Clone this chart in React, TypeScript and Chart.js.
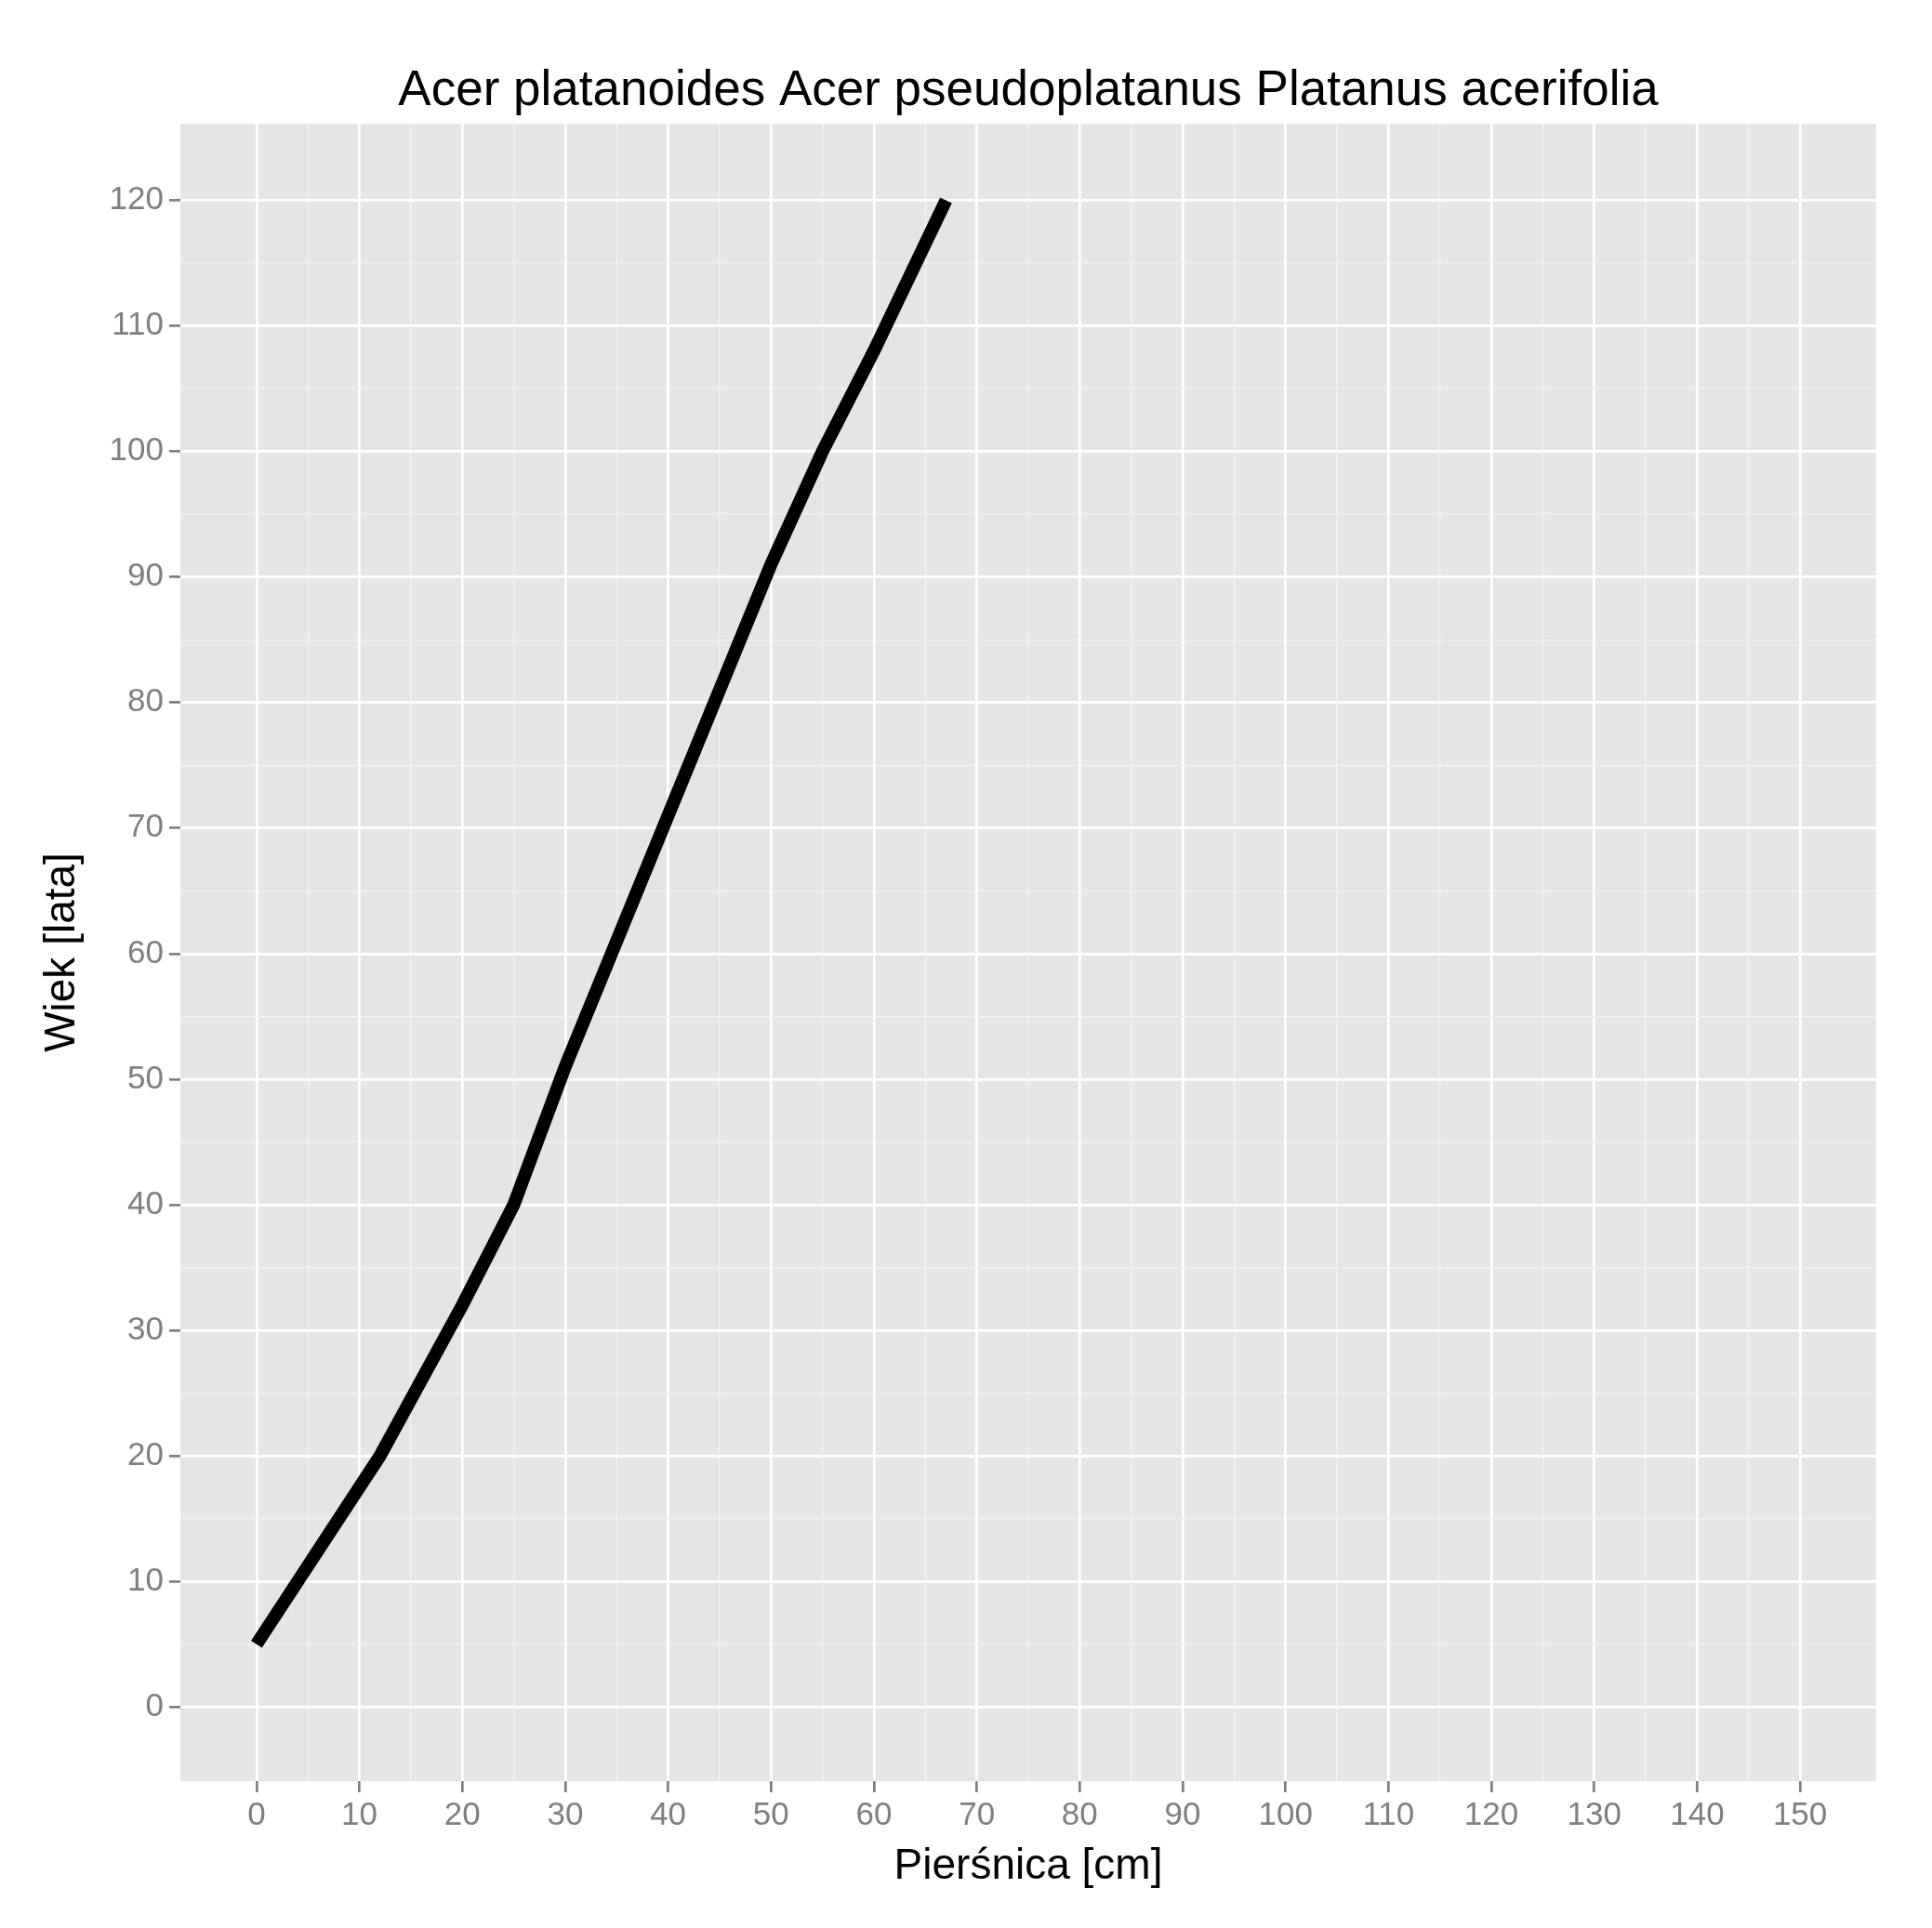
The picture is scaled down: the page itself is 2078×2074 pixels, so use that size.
import { useEffect, useRef } from "react"
import { Chart, registerables } from "chart.js"

Chart.register(...registerables)

const diameters = [0, 12, 20, 25, 30, 40, 50, 55, 60, 67]
const ages = [5, 20, 32, 40, 51, 71, 91, 100, 108, 120]
const titleText = "Acer platanoides Acer pseudoplatanus Platanus acerifolia"

const FONT = "'Liberation Sans', Arial, sans-serif"

const panelPlugin = {
  id: "panel",
  beforeDraw(chart: any) {
    const { ctx, chartArea: a } = chart
    ctx.save()
    ctx.fillStyle = "#e5e5e5"
    ctx.fillRect(a.left, a.top, a.right - a.left, a.bottom - a.top)
    ctx.restore()
  },
  afterDraw(chart: any) {
    const { ctx, chartArea: a } = chart
    ctx.save()
    ctx.fillStyle = "#000"
    ctx.font = `53px ${FONT}`
    ctx.textAlign = "center"
    ctx.textBaseline = "middle"
    ctx.fillText(titleText, (a.left + a.right) / 2, 98)
    ctx.restore()
  },
}

const gridColor = (ctx: any) => {
  const v = ctx.tick?.value
  if (v === undefined) return "transparent"
  if (Math.abs(v % 10) < 1e-6) return "#ffffff"
  if (Math.abs(v % 5) < 1e-6) return "#f2f2f2"
  return "transparent"
}
const tickColor = (ctx: any) => {
  const v = ctx.tick?.value
  return v !== undefined && Math.abs(v % 10) < 1e-6 ? "#7f7f7f" : "transparent"
}
const gridWidth = (c: any) => (Math.abs((c.tick?.value ?? 1) % 10) < 1e-6 ? 2.7 : 1.3)
const label = (v: any) => (Math.abs(Number(v) % 10) < 1e-6 ? String(v) : "")

export default function App() {
  const ref = useRef<HTMLCanvasElement>(null)

  useEffect(() => {
    document.body.style.margin = "0"
    if (!ref.current) return
    const chart = new Chart(ref.current, {
      type: "line",
      data: {
        datasets: [
          {
            data: diameters.map((d, i) => ({ x: d, y: ages[i] })),
            borderColor: "#000",
            borderWidth: 14,
            pointRadius: 0,
            tension: 0,
          },
        ],
      },
      options: {
        animation: false,
        responsive: false,
        devicePixelRatio: 1,
        layout: { padding: { top: 133, right: 60, left: 0, bottom: 0 } },
        plugins: { legend: { display: false }, tooltip: { enabled: false } },
        scales: {
          x: {
            type: "linear",
            min: -7.4,
            max: 157.4,
            afterFit: (s: any) => { s.height = 158 },
            border: { display: false },
            grid: { color: gridColor, lineWidth: gridWidth, tickLength: 12, tickColor, tickWidth: 2.7 },
            ticks: { stepSize: 5, autoSkip: false, maxRotation: 0, color: "#7f7f7f", font: { family: FONT, size: 35 }, padding: 4, callback: label },
            title: { display: true, text: "Pierśnica [cm]", color: "#000", font: { family: FONT, size: 46 }, padding: { top: 0, bottom: 38 } },
          },
          y: {
            min: -5.9,
            max: 126.1,
            afterFit: (s: any) => { s.width = 194 },
            border: { display: false },
            grid: { color: gridColor, lineWidth: gridWidth, tickLength: 12, tickColor, tickWidth: 2.7 },
            ticks: { stepSize: 5, autoSkip: false, color: "#7f7f7f", font: { family: FONT, size: 35 }, padding: 6, callback: label },
            title: { display: true, text: "Wiek [lata]", color: "#000", font: { family: FONT, size: 46 }, padding: { top: 40, bottom: 0 } },
          },
        },
      },
      plugins: [panelPlugin],
    })
    return () => chart.destroy()
  }, [])

  return <canvas ref={ref} width={2078} height={2074} style={{ display: "block", width: 2078, height: 2074 }} />
}
